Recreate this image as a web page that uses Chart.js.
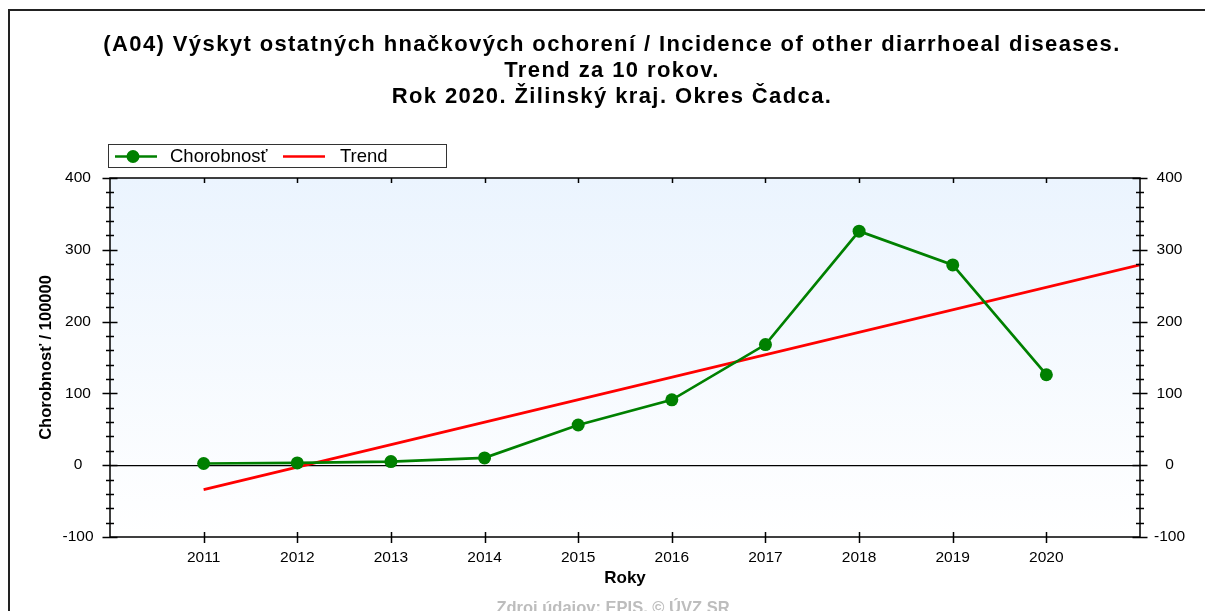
<!DOCTYPE html>
<html>
<head>
<meta charset="utf-8">
<script src="https://cdn.jsdelivr.net/npm/chart.js@4/dist/chart.umd.min.js"></script>
<style>
  html, body { margin: 0; padding: 0; background: #fff; }
  #wrap { position: relative; width: 1205px; height: 611px; overflow: hidden; }
</style>
</head>
<body>
<div id="wrap"><canvas id="graf" width="1205" height="611"></canvas></div>
<script>
// data
var roky = [2011, 2012, 2013, 2014, 2015, 2016, 2017, 2018, 2019, 2020];
var chorobnost = [2.4, 3.2, 5.1, 10.2, 56, 91, 168, 326, 279, 126];
var trendRoky = [2011, 2021];
var trendHodnoty = [-34, 279];
var yTicky = [-100, 0, 100, 200, 300, 400];

var nadpis = [
  "(A04) Výskyt ostatných hnačkových ochorení / Incidence of other diarrhoeal diseases.",
  "Trend za 10 rokov.",
  "Rok 2020. Žilinský kraj. Okres Čadca."
];

var FONT = "'Liberation Sans', Arial, sans-serif";

// background, borders, ticks, titles and legend
var kreslenie = {
  id: 'kreslenie',
  beforeDraw: function(chart) {
    var c = chart.ctx, a = chart.chartArea;
    var g = c.createLinearGradient(0, a.top, 0, a.bottom);
    g.addColorStop(0, '#ebf4fe');
    g.addColorStop(1, '#ffffff');
    c.save();
    c.fillStyle = g;
    c.fillRect(a.left, a.top, a.right - a.left, a.bottom - a.top);
    c.restore();
  },
  afterDraw: function(chart) {
    var c = chart.ctx, a = chart.chartArea;
    var x = chart.scales.x, y = chart.scales.y;
    c.save();

    // ramik stranky
    c.strokeStyle = '#222';
    c.lineWidth = 2;
    c.beginPath();
    c.moveTo(9, 611); c.lineTo(9, 10); c.lineTo(1205, 10);
    c.stroke();

    // ramik grafu
    c.lineWidth = 1.5;
    c.strokeStyle = '#000';
    c.strokeRect(a.left, a.top, a.right - a.left, a.bottom - a.top);

    // y ticky (hlavne + vedlajsie), na oboch stranach
    for (var v = -100; v <= 400; v += 20) {
      var py = Math.round(y.getPixelForValue(v)) + 0.5;
      var len = (v % 100 === 0) ? 7.5 : 4;
      c.beginPath();
      c.moveTo(a.left - len, py); c.lineTo(a.left + len, py);
      c.moveTo(a.right - len, py); c.lineTo(a.right + len, py);
      c.stroke();
    }
    // x ticky
    roky.forEach(function(r) {
      var px = Math.round(x.getPixelForValue(r)) + 0.5;
      c.beginPath();
      c.moveTo(px, a.bottom - 5); c.lineTo(px, a.bottom + 6);
      c.moveTo(px, a.top); c.lineTo(px, a.top + 5);
      c.stroke();
    });

    // nadpis
    c.fillStyle = '#000';
    c.textAlign = 'center';
    c.textBaseline = 'middle';
    c.font = 'bold 22px ' + FONT;
    c.letterSpacing = '1.4px';
    nadpis.forEach(function(t, i) {
      c.fillText(t, 612, 45 + i * 26);
    });
    c.letterSpacing = '0px';

    // zdroj
    c.fillStyle = '#bdbdbd';
    c.font = 'bold 16.5px ' + FONT;
    c.textBaseline = 'alphabetic';
    c.fillText('Zdroj údajov: EPIS, © ÚVZ SR', 613, 613);

    // legenda
    c.strokeStyle = '#333';
    c.lineWidth = 1;
    c.strokeRect(108.5, 144.5, 338, 23);
    c.textAlign = 'left';
    c.textBaseline = 'middle';
    c.font = '18.5px ' + FONT;
    var ds = chart.data.datasets;
    c.lineWidth = 2.7;
    c.strokeStyle = ds[0].borderColor;
    c.beginPath(); c.moveTo(115, 156.5); c.lineTo(157, 156.5); c.stroke();
    c.fillStyle = ds[0].borderColor;
    c.beginPath(); c.arc(133, 156.5, 6.5, 0, Math.PI * 2); c.fill();
    c.fillStyle = '#000';
    c.fillText(ds[0].label, 170, 157);
    c.strokeStyle = ds[1].borderColor;
    c.beginPath(); c.moveTo(283, 156.5); c.lineTo(325, 156.5); c.stroke();
    c.fillStyle = '#000';
    c.fillText(ds[1].label, 340, 157);

    c.restore();
  }
};

var ctx = document.getElementById('graf').getContext('2d');
var graf = new Chart(ctx, {
  type: 'line',
  data: {
    datasets: [{
      label: 'Chorobnosť',
      data: roky.map(function(r, i) { return { x: r, y: chorobnost[i] }; }),
      borderColor: '#008000',
      backgroundColor: '#008000',
      borderWidth: 2.7,
      pointRadius: 6.5,
      pointHoverRadius: 6.5,
      pointBorderWidth: 0,
      tension: 0,
      order: 1
    }, {
      label: 'Trend',
      data: trendRoky.map(function(r, i) { return { x: r, y: trendHodnoty[i] }; }),
      borderColor: '#ff0000',
      backgroundColor: '#ff0000',
      borderWidth: 2.7,
      pointRadius: 0,
      tension: 0,
      order: 2
    }]
  },
  options: {
    responsive: false,
    animation: false,
    layout: { padding: { top: 178, right: 0, bottom: 0, left: 0 } },
    plugins: {
      legend: { display: false },
      title: { display: false },
      tooltip: { enabled: false }
    },
    scales: {
      x: {
        type: 'linear',
        min: 2010,
        max: 2021,
        afterFit: function(s) { s.height = 74; },
        afterBuildTicks: function(s) {
          s.ticks = roky.map(function(r) { return { value: r }; });
        },
        ticks: {
          padding: 3,
          color: '#000',
          font: { family: FONT, size: 15.5 },
          callback: function(v) { return String(v); }
        },
        grid: { display: false },
        border: { display: false },
        title: {
          display: true,
          text: 'Roky',
          color: '#000',
          font: { family: FONT, size: 17, weight: 'bold' },
          padding: { top: 0, bottom: 22 }
        }
      },
      y: {
        position: 'left',
        min: -100,
        max: 400,
        afterFit: function(s) { s.width = 110; },
        afterBuildTicks: function(s) {
          s.ticks = yTicky.map(function(v) { return { value: v }; });
        },
        ticks: {
          padding: 16.5,
          crossAlign: 'center',
          color: '#000',
          font: { family: FONT, size: 15.5 }
        },
        grid: {
          drawTicks: false,
          lineWidth: 1.2,
          color: function(c) { return c.tick && c.tick.value === 0 ? '#000' : 'rgba(0,0,0,0)'; }
        },
        border: { display: false },
        title: {
          display: true,
          text: 'Chorobnosť / 100000',
          color: '#000',
          font: { family: FONT, size: 16.5, weight: 'bold' },
          padding: { top: 37, bottom: 0 }
        }
      },
      y2: {
        position: 'right',
        min: -100,
        max: 400,
        afterFit: function(s) { s.width = 65; },
        afterBuildTicks: function(s) {
          s.ticks = yTicky.map(function(v) { return { value: v }; });
        },
        ticks: {
          padding: 14,
          crossAlign: 'center',
          color: '#000',
          font: { family: FONT, size: 15.5 }
        },
        grid: { display: false, drawTicks: false },
        border: { display: false }
      }
    }
  },
  plugins: [kreslenie]
});
</script>
</body>
</html>
